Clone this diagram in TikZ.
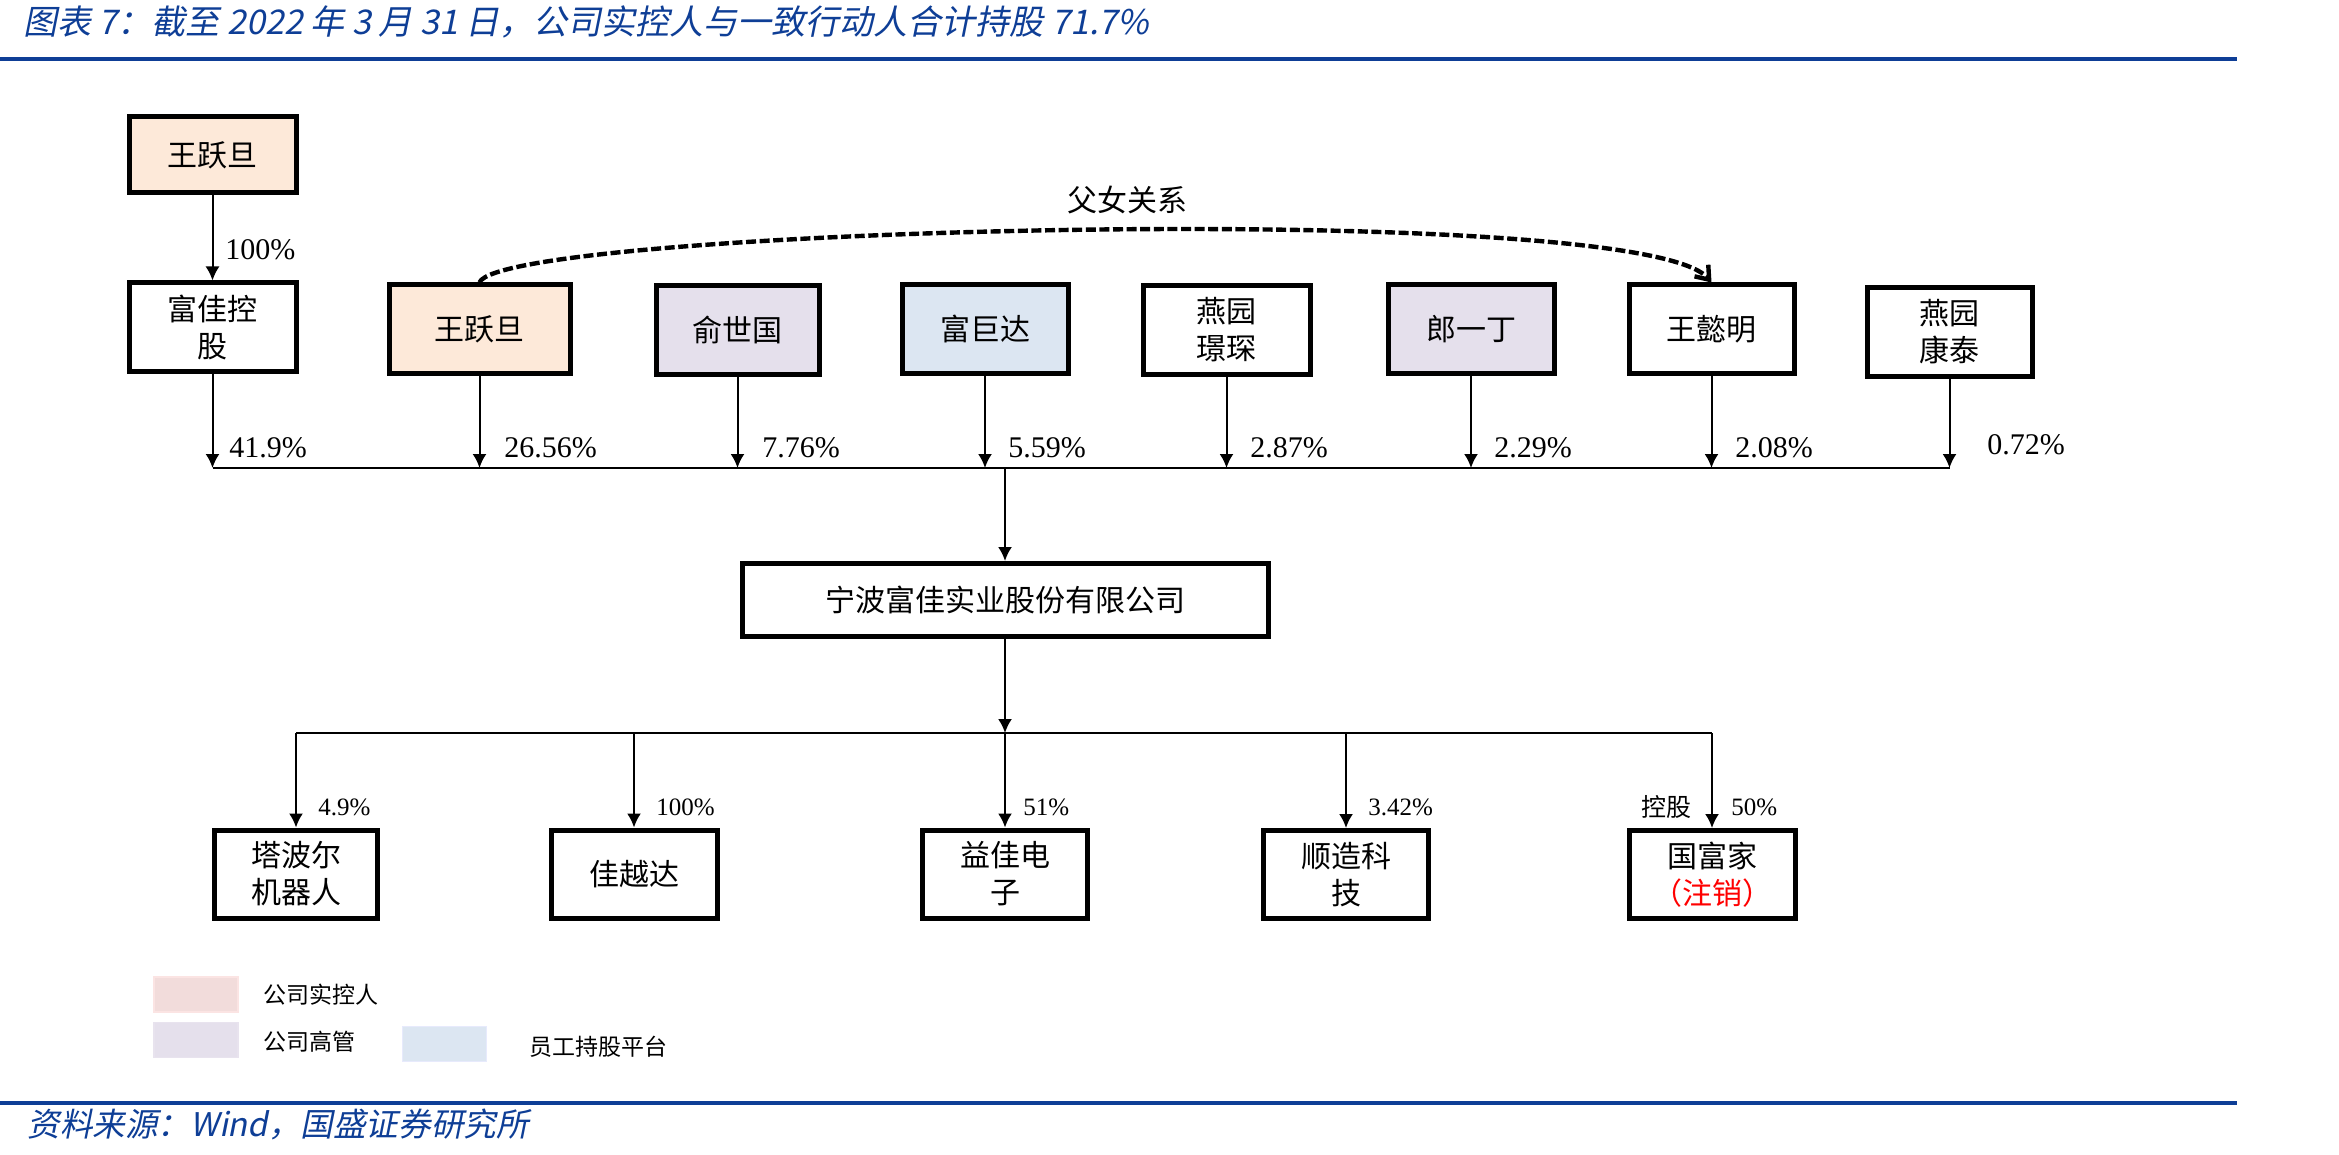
\documentclass[tikz,border=0pt]{standalone}
\usepackage{fontspec}
\setmainfont{Liberation Serif}
\newfontfamily\cjk{Noto Sans CJK SC}
\newfontfamily\cjkit[FakeSlant=0.2]{Noto Sans CJK SC}
\usetikzlibrary{arrows.meta}
\definecolor{tblue}{RGB}{14,62,150}
\definecolor{peach}{RGB}{253,233,217}
\definecolor{lav}{RGB}{229,224,236}
\definecolor{lblue}{RGB}{220,230,242}
\definecolor{lpink}{RGB}{242,220,219}
\tikzset{
  obox/.style={draw, line width=2.5pt, minimum height=44pt, align=center, inner sep=2pt,
    font=\cjk\fontsize{15pt}{18.5pt}\selectfont},
  arr/.style={line width=1pt, -{Latex[length=7pt,width=7pt]}},
  busline/.style={line width=1.3pt},
  pct/.style={font=\fontsize{15pt}{18pt}\selectfont, anchor=west, inner sep=0pt},
  spct/.style={font=\fontsize{12.5pt}{15pt}\selectfont, anchor=west, inner sep=0pt},
  legbox/.style={minimum width=42pt, minimum height=17.5pt, inner sep=0pt, line width=0.6pt},
  legtext/.style={font=\cjk\fontsize{11.5pt}{14pt}\selectfont, anchor=west, inner sep=0pt},
  dashline/.style={line width=2.2pt, dash pattern=on 5pt off 1.8pt, -{Straight Barb[length=6pt,width=9pt]}},
}
\begin{document}
\begin{tikzpicture}[x=0.5pt,y=-0.5pt]
\useasboundingbox (0,0) rectangle (2339,1155);
\fill[white] (0,0) rectangle (2339,1155);
% title and rules
\node[anchor=west, inner sep=0pt, text=tblue, font=\cjkit\fontsize{17pt}{20pt}\selectfont] (title) at (23,22)
  {图表 7：截至 2022 年 3 月 31 日，公司实控人与一致行动人合计持股 71.7\%};
\draw[line width=2.2pt, tblue] (0,59) -- (2237,59);
\draw[line width=2.2pt, tblue] (0,1103) -- (2237,1103);
\node[anchor=west, inner sep=0pt, text=tblue, font=\cjkit\fontsize{16.3pt}{19pt}\selectfont] (src) at (27,1124)
  {资料来源：Wind，国盛证券研究所};
% top level
\node[obox, fill=peach, minimum width=83.5pt, minimum height=38pt] (wy0) at (212.5,155) {王跃旦};
\node[obox, minimum width=83.5pt] (fj) at (212.5,327) {富佳控\\股};
\node[obox, fill=peach, minimum width=90.5pt] (wy) at (479.5,329) {王跃旦};
\node[obox, fill=lav, minimum width=81.5pt] (ysg) at (737.5,330) {俞世国};
\node[obox, fill=lblue, minimum width=83pt] (fjd) at (985,329) {富巨达};
\node[obox, minimum width=83.5pt] (yyjc) at (1226.5,330) {燕园\\璟琛};
\node[obox, fill=lav, minimum width=83pt] (lyd) at (1471,329) {郎一丁};
\node[obox, minimum width=82.5pt] (wym) at (1711.5,329) {王懿明};
\node[obox, minimum width=82.5pt] (yykt) at (1949.5,332) {燕园\\康泰};
\draw[arr] (wy0) -- (fj);
\node[pct] at (225,250) {100\%};
% relation
\draw[dashline] (wy.north) .. controls (500,228) and (1640,198) .. (wym.north);
\node[font=\cjk\fontsize{15pt}{18pt}\selectfont, inner sep=0pt] (rel) at (1127,200) {父女关系};
% bus 1
\coordinate (b1L) at (212.5,468);
\coordinate (b1R) at (1949.5,468);
\draw[busline] (b1L) -- (b1R);
\foreach \n in {fj,wy,ysg,fjd,yyjc,lyd,wym,yykt}{
  \draw[arr] (\n.south) -- (\n.south |- b1L);
}
\node[pct] at (229,448) {41.9\%};
\node[pct] at (504,448) {26.56\%};
\node[pct] at (762,448) {7.76\%};
\node[pct] at (1008,448) {5.59\%};
\node[pct] at (1250,448) {2.87\%};
\node[pct] at (1494,448) {2.29\%};
\node[pct] at (1735,448) {2.08\%};
\node[pct] at (1987,445) {0.72\%};
% main company
\node[obox, minimum width=263pt, minimum height=36.5pt] (main) at (1005,600) {宁波富佳实业股份有限公司};
\draw[arr] (main.north |- b1L) -- (main.north);
% bus 2
\coordinate (b2L) at (296,733);
\coordinate (b2R) at (1712,733);
\draw[busline] (b2L) -- (b2R);
\draw[arr] (main.south) -- (main.south |- b2L);
% children
\node[obox, minimum width=81.5pt] (tbe) at (296,874) {塔波尔\\机器人};
\node[obox, minimum width=83pt] (jyd) at (634,874) {佳越达};
\node[obox, minimum width=82.5pt] (yjdz) at (1005,874) {益佳电\\子};
\node[obox, minimum width=82.5pt] (szkj) at (1346,874.5) {顺造科\\技};
\node[obox, minimum width=83pt] (gfj) at (1712,874.5) {国富家\\{\color{red}（注销）}};
\foreach \n in {tbe,jyd,yjdz,szkj,gfj}{
  \draw[arr] (\n.north |- b2L) -- (\n.north);
}
\node[spct] at (318,807) {4.9\%};
\node[spct] at (656,807) {100\%};
\node[spct] at (1023,807) {51\%};
\node[spct] at (1368,807) {3.42\%};
\node[spct] at (1731,807) {50\%};
\node[spct, anchor=east, font=\cjk\fontsize{12.5pt}{15pt}\selectfont] at (1692,807) {控股};
% legend
\node[legbox, fill=lpink, draw=lpink!85!red!40!white] (lg1) at (196,994.5) {};
\node[legtext] (lt1) at (263,995) {公司实控人};
\node[legbox, fill=lav, draw=lav!90!white] (lg2) at (196,1040) {};
\node[legtext] (lt2) at (263,1042) {公司高管};
\node[legbox, fill=lblue, draw=lblue!80!blue!30!white] (lg3) at (444.5,1044) {};
\node[legtext] (lt3) at (529,1047) {员工持股平台};
\end{tikzpicture}
\end{document}
